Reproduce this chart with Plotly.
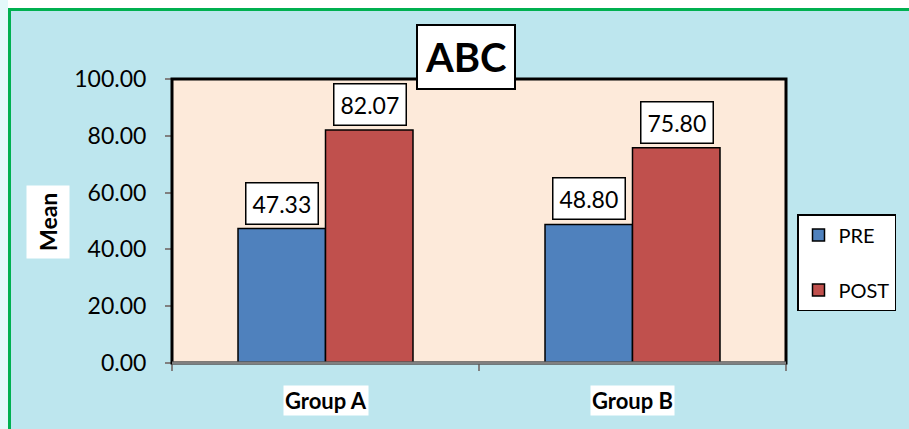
import plotly.graph_objects as go

categories = ["Group A", "Group B"]
pre_values = [47.33, 48.80]
post_values = [82.07, 75.80]
series_names = ["PRE", "POST"]
title_text = "ABC"
y_title = "Mean"

W, H = 909, 429
L, R, T, B = 172, 786, 79, 363  # plot area in pixels


def px(x):
    return (x - L) / (R - L)


def py(y):
    return (B - y) / (B - T)


FONT = "Lato, 'Open Sans', sans-serif"

fig = go.Figure()
fig.add_trace(go.Bar(x=categories, y=pre_values, name=series_names[0], legendgroup="a",
                     marker=dict(color="#4F81BD", line=dict(color="black", width=1.5))))
fig.add_trace(go.Bar(x=categories, y=post_values, name=series_names[1], legendgroup="b",
                     marker=dict(color="#C0504D", line=dict(color="black", width=1.5))))

annotations = []
for vals, shift in ((pre_values, -44), (post_values, 44)):
    for c, v in zip(categories, vals):
        annotations.append(dict(x=c, y=v, xref="x", yref="y", text=f"{v:.2f}", showarrow=False,
                                xshift=shift, yanchor="bottom", yshift=4,
                                font=dict(size=23, color="black", family=FONT),
                                bgcolor="white", bordercolor="black", borderwidth=1.5, borderpad=6))
for c in categories:
    annotations.append(dict(x=c, y=0, xref="x", yref="y", text=f"<b>{c}</b>", showarrow=False,
                            yanchor="middle", yshift=-37, font=dict(size=22, color="black", family=FONT),
                            bgcolor="white", borderpad=1))
annotations.append(dict(x=px(466), y=py(57), xref="paper", yref="paper", text=f"<b>{title_text}</b>",
                        showarrow=False, xanchor="center", yanchor="middle",
                        font=dict(size=40, color="black", family=FONT),
                        bgcolor="white", bordercolor="black", borderwidth=2, borderpad=7))
annotations.append(dict(x=px(48), y=py(222), xref="paper", yref="paper", text=f"<b>{y_title}</b>",
                        showarrow=False, textangle=-90, xanchor="center", yanchor="middle",
                        font=dict(size=23, color="black", family=FONT),
                        bgcolor="white", borderpad=7))

shapes = [
    # white strips outside green frame
    dict(type="rect", xref="paper", yref="paper", x0=px(0), x1=px(W), y0=py(0), y1=py(8),
         fillcolor="white", line=dict(width=0), layer="below"),
    dict(type="rect", xref="paper", yref="paper", x0=px(0), x1=px(8), y0=py(0), y1=py(H),
         fillcolor="#E3F8FA", line=dict(width=0), layer="below"),
    # green frame
    dict(type="line", xref="paper", yref="paper", x0=px(8), x1=px(W), y0=py(9.5), y1=py(9.5),
         line=dict(color="#00B050", width=3)),
    dict(type="line", xref="paper", yref="paper", x0=px(9.5), x1=px(9.5), y0=py(8), y1=py(H),
         line=dict(color="#00B050", width=3)),
    # plot border
    dict(type="rect", xref="paper", yref="paper", x0=0, x1=1, y0=0, y1=1,
         line=dict(color="black", width=3), fillcolor="rgba(0,0,0,0)", layer="above"),
    dict(type="line", xref="paper", yref="paper", x0=0, x1=1, y0=0, y1=0,
         line=dict(color="#808080", width=3), layer="above"),
]

fig.update_layout(
    width=W, height=H,
    margin=dict(l=L, r=W - R, t=T, b=H - B, pad=0, autoexpand=False),
    paper_bgcolor="#BDE6EE",
    plot_bgcolor="#FDEADA",
    barmode="group", bargap=0.43, bargroupgap=0,
    showlegend=True,
    legend=dict(x=px(797), y=py(214), xanchor="left", yanchor="top",
                bgcolor="white", bordercolor="black", borderwidth=1.5,
                font=dict(size=20, color="black", family=FONT),
                tracegroupgap=26, traceorder="grouped", itemwidth=30),
    annotations=annotations,
    shapes=shapes,
    font=dict(family=FONT, color="black"),
)
fig.update_yaxes(range=[0, 100], dtick=20, tickformat=".2f", showgrid=False, zeroline=False,
                 ticks="outside", ticklen=6, tickcolor="#808080", tickwidth=2,
                 ticklabelstandoff=14,
                 tickfont=dict(size=23, color="black", family=FONT),
                 showline=False)
fig.update_xaxes(showticklabels=False, ticks="outside", tickson="boundaries", ticklen=7,
                 tickcolor="#808080", tickwidth=2, showgrid=False, showline=False)

fig.write_html("out.html")
